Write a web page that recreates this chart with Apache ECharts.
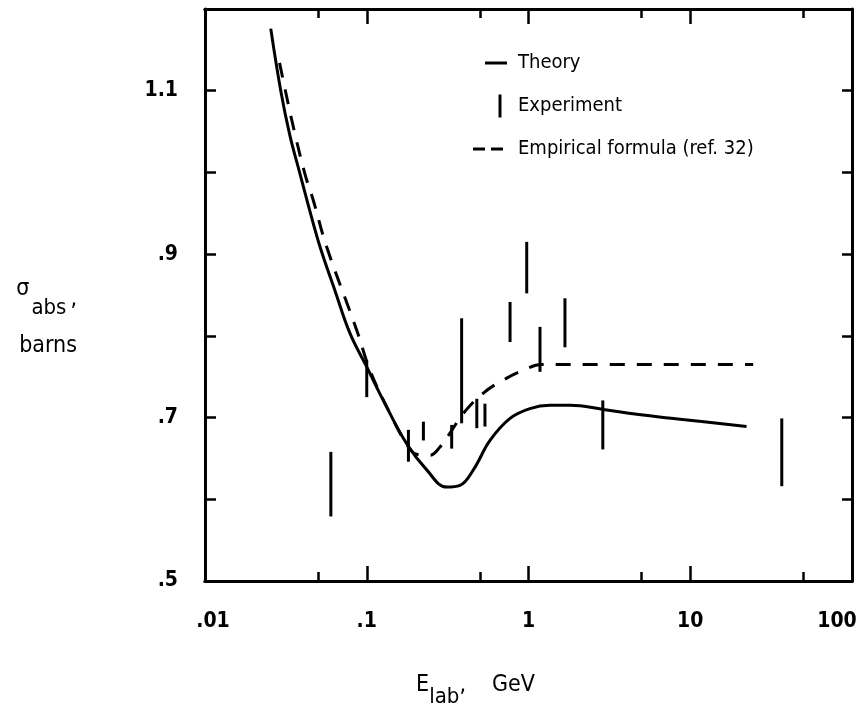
<!DOCTYPE html>
<html>
<head>
<meta charset="utf-8">
<script src="https://cdn.jsdelivr.net/npm/echarts@6/dist/echarts.min.js"></script>
<style>
  html, body { margin: 0; padding: 0; background: #fff; overflow: hidden; }
  #chart { width: 864px; height: 716px; }
</style>
</head>
<body>
<div id="chart"></div>
<script>
// ---- Data ----
const xTicksMajor = [0.01, 0.1, 1, 10, 100];
const xTickLabels = ['.01', '.1', '1', '10', '100'];
const xTicksMinor = [0.05, 0.5, 5, 50];
const yLabelValues = [0.5, 0.7, 0.9, 1.1];
const yLabelTexts = ['.5', '.7', '.9', '1.1'];

// Theory (solid)
const theoryE = [0.0255, 0.0294, 0.0335, 0.0387, 0.0446, 0.0514, 0.0637, 0.0788, 0.100, 0.1266, 0.1766, 0.2348, 0.312, 0.377, 0.456, 0.578, 0.769, 1.02, 1.36, 1.81, 2.90, 4.67, 8.64, 22.3];
const theorySigma = [1.176, 1.100, 1.045, 0.998, 0.952, 0.909, 0.855, 0.803, 0.762, 0.721, 0.668, 0.636, 0.615, 0.617, 0.636, 0.672, 0.699, 0.711, 0.715, 0.715, 0.710, 0.704, 0.698, 0.689];

// Empirical formula (dashed)
const empE = [0.0289, 0.0326, 0.036, 0.0415, 0.0467, 0.0565, 0.0867, 0.1047, 0.1392, 0.1807, 0.2037, 0.246, 0.2837, 0.327, 0.395, 0.526, 0.699, 0.929, 1.206, 24.5];
const empSigma = [1.134, 1.085, 1.047, 0.998, 0.966, 0.909, 0.807, 0.758, 0.705, 0.664, 0.655, 0.654, 0.664, 0.681, 0.705, 0.730, 0.746, 0.758, 0.765, 0.765];

// Experiment (vertical bars: low..high)
const expE = [0.06, 0.1, 0.181, 0.224, 0.335, 0.386, 0.479, 0.538, 0.769, 0.975, 1.178, 1.68, 2.88, 36.8];
const expLow = [0.579, 0.725, 0.646, 0.672, 0.662, 0.693, 0.687, 0.689, 0.7925, 0.852, 0.756, 0.786, 0.661, 0.616];
const expHigh = [0.658, 0.770, 0.685, 0.695, 0.691, 0.8215, 0.723, 0.717, 0.8415, 0.915, 0.811, 0.846, 0.721, 0.699];

const names = ['Theory', 'Experiment', 'Empirical formula (ref. 32)'];

// ---- Build chart ----
const FONT = '"Liberation Sans Narrow", "DejaVu Sans Condensed", sans-serif';
const black = '#000';

function zip(a, b) { return a.map((v, i) => [v, b[i]]); }
const expData = expE.map((v, i) => [v, expLow[i], expHigh[i]]);

function xLabel(v) {
  for (let i = 0; i < xTicksMajor.length; i++) {
    if (Math.abs(Math.log10(v) - Math.log10(xTicksMajor[i])) < 1e-6) {
      if (i === 0) return '{first|' + xTickLabels[i] + '}';
      if (i === xTicksMajor.length - 1) return '{last|' + xTickLabels[i] + '}';
      return xTickLabels[i];
    }
  }
  return '';
}
function yLabel(v) {
  for (let i = 0; i < yLabelValues.length; i++) {
    if (Math.abs(v - yLabelValues[i]) < 1e-6) return yLabelTexts[i];
  }
  return '';
}

const tickStyle = { color: black, width: 2.5 };
const axisLineStyle = { color: black, width: 3 };
const labelFont = { color: black, fontFamily: FONT, fontSize: 21, fontWeight: 'bold' };

function xAx(position, major, showLabel) {
  return {
    type: 'log', logBase: 10, min: 0.01, max: 100, gridIndex: 0,
    position: position,
    axisLine: { show: true, lineStyle: axisLineStyle },
    axisTick: { show: true, inside: true, length: major ? 15 : 9, lineStyle: tickStyle,
                customValues: major ? xTicksMajor : xTicksMinor },
    axisLabel: Object.assign({ show: showLabel, customValues: xTicksMajor, formatter: xLabel, margin: 30,
                 rich: {
                   first: Object.assign({ padding: [0, 0, 0, 16] }, labelFont),
                   last: Object.assign({ padding: [0, 30, 0, 0] }, labelFont)
                 } }, labelFont),
    splitLine: { show: false },
    minorTick: { show: false }
  };
}

const xAxes = [
  xAx('bottom', true, true),
  xAx('top', true, false),
  xAx('bottom', false, false),  // flips to top (bottom used)
  xAx('top', false, false)      // flips to bottom (top used)
];
xAxes[0].name = '{m|E}{sub|lab}{m|,}{g|GeV}';
xAxes[0].nameLocation = 'middle';
xAxes[0].nameGap = 93;
xAxes[0].nameTextStyle = {
  color: black, fontFamily: FONT, fontSize: 23, padding: [0, 106, 0, 0],
  rich: {
    m: { fontFamily: FONT, fontSize: 23, color: black, padding: [0, 0, 12, 0] },
    g: { fontFamily: FONT, fontSize: 23, color: black, padding: [0, 0, 12, 26] },
    sub: { fontFamily: FONT, fontSize: 22, color: black, padding: [12, 0, 0, 0] }
  }
};

const option = {
  animation: false,
  backgroundColor: '#fff',
  grid: { left: 205, right: 12, top: 9, bottom: 135, containLabel: false, outerBoundsMode: 'none' },
  legend: {
    orient: 'vertical', left: 473, top: 51, padding: 0,
    itemWidth: 40, itemHeight: 24, itemGap: 19,
    selectedMode: false,
    itemStyle: { color: black, borderWidth: 0 },
    textStyle: { color: black, fontFamily: FONT, fontSize: 20 },
    data: [
      { name: names[0], icon: 'path://M0,0L0,0M40,24L40,24M12,10.5L34,10.5L34,13.5L12,13.5Z' },
      { name: names[1], icon: 'path://M0,0L0,0M40,24L40,24M25.5,0.5L28.5,0.5L28.5,23.5L25.5,23.5Z' },
      { name: names[2], icon: 'path://M0,0L0,0M40,24L40,24M0,10.5L12,10.5L12,13.5L0,13.5ZM18,10.5L30,10.5L30,13.5L18,13.5Z' }
    ]
  },
  xAxis: xAxes,
  yAxis: [
    {
      type: 'value', min: 0.5, max: 1.2, interval: 0.1, position: 'left',
      name: '{s|σ}{sub|abs}{c|,}\n{b|barns}',
      nameLocation: 'middle', nameRotate: 0, nameGap: 128,
      nameTextStyle: {
        color: black, fontFamily: FONT, fontSize: 23, padding: [46, 0, 0, 0],
        rich: {
          s: { fontFamily: FONT, fontSize: 23, color: black, padding: [0, 2, 19, 0] },
          sub: { fontFamily: FONT, fontSize: 22, color: black, padding: [19, 0, 0, 0] },
          c: { fontFamily: FONT, fontSize: 23, color: black, padding: [10, 0, 9, 4] },
          b: { fontFamily: FONT, fontSize: 23, color: black, padding: [15, 0, 0, 0] }
        }
      },
      axisLine: { show: true, lineStyle: axisLineStyle },
      axisTick: { show: true, inside: true, length: 11, lineStyle: tickStyle },
      axisLabel: Object.assign({ formatter: yLabel, margin: 27 }, labelFont),
      splitLine: { show: false }
    },
    {
      type: 'value', min: 0.5, max: 1.2, interval: 0.1, position: 'right',
      axisLine: { show: true, lineStyle: axisLineStyle },
      axisTick: { show: true, inside: true, length: 10, lineStyle: tickStyle },
      axisLabel: { show: false },
      splitLine: { show: false }
    }
  ],
  series: [
    {
      name: names[0], type: 'line', xAxisIndex: 0, yAxisIndex: 0,
      data: zip(theoryE, theorySigma), smooth: 0.4, showSymbol: false, symbol: 'none',
      color: black, lineStyle: { color: black, width: 3 }, z: 3
    },
    {
      name: names[1], type: 'custom', xAxisIndex: 0, yAxisIndex: 0,
      data: expData, encode: { x: 0, y: [1, 2] },
      itemStyle: { color: black },
      renderItem: function (params, api) {
        const p1 = api.coord([api.value(0), api.value(1)]);
        const p2 = api.coord([api.value(0), api.value(2)]);
        return { type: 'line', shape: { x1: p1[0], y1: p1[1], x2: p2[0], y2: p2[1] },
                 style: { stroke: black, lineWidth: 3 } };
      }, z: 4
    },
    {
      name: names[2], type: 'line', xAxisIndex: 0, yAxisIndex: 0,
      data: zip(empE, empSigma), smooth: 0.4, showSymbol: false, symbol: 'none',
      color: black, lineStyle: { color: black, width: 3, type: [15, 12] }, z: 3
    }
  ]
};

const chart = echarts.init(document.getElementById('chart'), null, { renderer: 'canvas' });
chart.setOption(option);
</script>
</body>
</html>
